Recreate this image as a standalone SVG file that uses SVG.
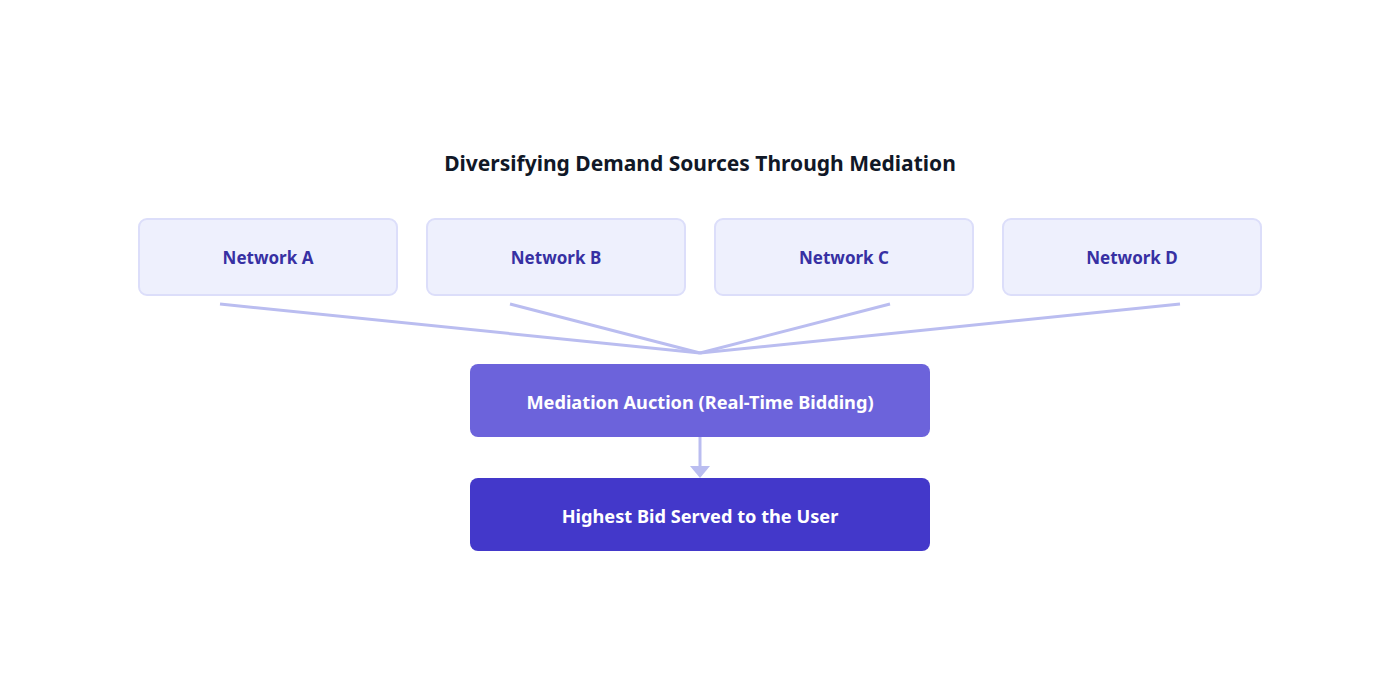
<svg xmlns="http://www.w3.org/2000/svg" width="1400" height="700" viewBox="0 0 1400 700">
<style>
text{font-family:"Noto Sans","Open Sans","Liberation Sans",sans-serif;font-weight:700;text-anchor:middle}
.title{font-size:21px;fill:#111827}
.net rect{fill:#eef0fd;stroke:#dcdefa;stroke-width:2}
.net text{font-size:17px;fill:#3730a3}
.conn{stroke:#babdf0;stroke-width:3;fill:none}
.w{font-size:18.2px;fill:#ffffff}
</style>
<rect width="1400" height="700" fill="#ffffff"/>
<text class="title" x="700" y="171">Diversifying Demand Sources Through Mediation</text>
<g id="networkA" class="net"><rect x="139" y="219" width="258" height="76" rx="8"/><text x="268" y="264">Network A</text></g>
<g id="networkB" class="net"><rect x="427" y="219" width="258" height="76" rx="8"/><text x="556" y="264">Network B</text></g>
<g id="networkC" class="net"><rect x="715" y="219" width="258" height="76" rx="8"/><text x="844" y="264">Network C</text></g>
<g id="networkD" class="net"><rect x="1003" y="219" width="258" height="76" rx="8"/><text x="1132" y="264">Network D</text></g>
<g id="connectors">
<path class="conn" d="M220 304 L700 353"/>
<path class="conn" d="M510 304 L700 353"/>
<path class="conn" d="M890 304 L700 353"/>
<path class="conn" d="M1180 304 L700 353"/>
<path class="conn" d="M700 437 L700 467"/>
<polygon points="690,466 710,466 700,478" fill="#babdf0"/>
</g>
<g id="auction"><rect x="470" y="364" width="460" height="73" rx="8" fill="#6c63db"/><text class="w" x="700" y="409">Mediation Auction (Real-Time Bidding)</text></g>
<g id="served"><rect x="470" y="478" width="460" height="73" rx="8" fill="#4338ca"/><text class="w" x="700" y="523">Highest Bid Served to the User</text></g>
</svg>
